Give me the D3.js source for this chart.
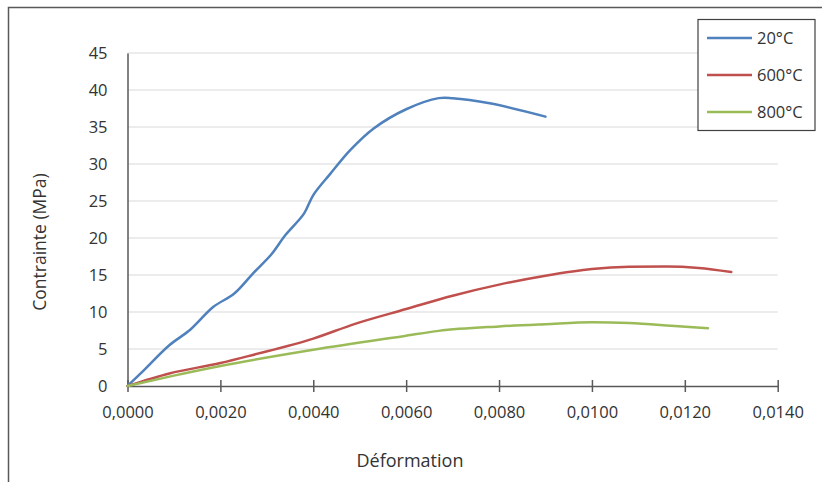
<!DOCTYPE html>
<html>
<head>
<meta charset="utf-8">
<script src="https://cdn.jsdelivr.net/npm/d3@7"></script>
<style>
  html, body { margin: 0; padding: 0; background: #fff; }
  svg { display: block; font-family: "Open Sans", sans-serif; }
</style>
</head>
<body>
<svg id="chart" width="822" height="482"></svg>
<script>
// Données (déformation, contrainte en MPa)
const strain20 = [0, 0.0003, 0.0009, 0.00135, 0.00185, 0.0023, 0.0027, 0.0031, 0.0034, 0.0038, 0.0040, 0.00437, 0.0048, 0.0053, 0.0060, 0.0067, 0.0070, 0.0078, 0.0090];
const stress20 = [0, 1.8, 5.5, 7.6, 10.7, 12.5, 15.2, 17.8, 20.4, 23.3, 25.8, 28.7, 31.9, 34.8, 37.4, 38.9, 38.9, 38.2, 36.4];

const strain600 = [0, 0.0009, 0.0020, 0.0027, 0.0040, 0.0049, 0.0060, 0.0070, 0.0080, 0.0090, 0.0100, 0.0108, 0.0116, 0.0123, 0.0130];
const stress600 = [0, 1.7, 3.1, 4.2, 6.4, 8.4, 10.4, 12.2, 13.7, 14.9, 15.8, 16.1, 16.15, 15.95, 15.4];

const strain800 = [0, 0.0010, 0.0020, 0.0040, 0.0060, 0.0067, 0.0080, 0.0090, 0.0100, 0.0108, 0.0117, 0.0125];
const stress800 = [0, 1.4, 2.7, 4.9, 6.8, 7.45, 8.05, 8.35, 8.6, 8.5, 8.15, 7.8];

const seriesNames = ["20°C", "600°C", "800°C"];
const seriesColors = ["#4f81bd", "#c0504d", "#9bbb59"];
const xTicks = [0, 0.002, 0.004, 0.006, 0.008, 0.010, 0.012, 0.014];
const yTicks = [0, 5, 10, 15, 20, 25, 30, 35, 40, 45];

const series = [
  { name: seriesNames[0], color: seriesColors[0], curve: d3.curveCatmullRom.alpha(0.5),
    values: strain20.map((d, i) => ({ x: d, y: stress20[i] })) },
  { name: seriesNames[1], color: seriesColors[1], curve: d3.curveMonotoneX,
    values: strain600.map((d, i) => ({ x: d, y: stress600[i] })) },
  { name: seriesNames[2], color: seriesColors[2], curve: d3.curveMonotoneX,
    values: strain800.map((d, i) => ({ x: d, y: stress800[i] })) }
];

const svg = d3.select("#chart");
const textColor = "#333333";
const axisColor = "#595959";

// Cadre extérieur
svg.append("rect")
  .attr("x", 8.5).attr("y", 7.5)
  .attr("width", 830).attr("height", 490)
  .attr("fill", "#fff")
  .attr("stroke", "#595959")
  .attr("stroke-width", 1.5);

const x = d3.scaleLinear().domain([0, 0.014]).range([127.5, 777.7]);
const y = d3.scaleLinear().domain([0, 45]).range([386, 53]);

// Grille horizontale
svg.append("g")
  .selectAll("line")
  .data(yTicks.filter(d => d > 0))
  .enter().append("line")
  .attr("x1", x(0)).attr("x2", x(0.014))
  .attr("y1", d => y(d)).attr("y2", d => y(d))
  .attr("stroke", "#d9d9d9")
  .attr("stroke-width", 1);

// Axe Y
const yAxis = svg.append("g")
  .attr("transform", `translate(${x(0)},0)`)
  .call(d3.axisLeft(y).tickValues(yTicks).tickSize(0).tickPadding(20));
yAxis.select(".domain").attr("stroke", axisColor).attr("stroke-width", 1.5);
yAxis.selectAll("text")
  .attr("fill", textColor)
  .attr("font-size", "16.5px")
  .attr("font-family", "Open Sans");

// Axe X
const xAxis = svg.append("g")
  .attr("transform", `translate(0,${y(0)})`)
  .call(d3.axisBottom(x).tickValues(xTicks).tickSizeInner(6).tickSizeOuter(0).tickPadding(14)
    .tickFormat(d => d3.format(".4f")(d).replace(".", ",")));
xAxis.select(".domain").attr("stroke", axisColor).attr("stroke-width", 1.5);
xAxis.selectAll(".tick line")
  .attr("y1", -6).attr("y2", 6)
  .attr("stroke", axisColor).attr("stroke-width", 1.5);
xAxis.selectAll("text")
  .attr("fill", textColor)
  .attr("font-size", "16.5px")
  .attr("font-family", "Open Sans");

// Courbes
svg.append("g")
  .selectAll("path")
  .data(series)
  .enter().append("path")
  .attr("fill", "none")
  .attr("stroke", d => d.color)
  .attr("stroke-width", 2.5)
  .attr("stroke-linecap", "round")
  .attr("d", d => d3.line().x(p => x(p.x)).y(p => y(p.y)).curve(d.curve)(d.values));

// Titres des axes
svg.append("text")
  .attr("x", 410).attr("y", 467)
  .attr("text-anchor", "middle")
  .attr("fill", textColor)
  .attr("font-size", "18px")
  .text("Déformation");

svg.append("text")
  .attr("transform", "translate(46,242) rotate(-90)")
  .attr("text-anchor", "middle")
  .attr("fill", textColor)
  .attr("font-size", "17.5px")
  .text("Contrainte (MPa)");

// Légende
const legend = svg.append("g");
legend.append("rect")
  .attr("x", 698).attr("y", 19.5)
  .attr("width", 117).attr("height", 111)
  .attr("fill", "#fff")
  .attr("stroke", "#404040")
  .attr("stroke-width", 1.2);

const legendItem = legend.selectAll(".item")
  .data(series)
  .enter().append("g")
  .attr("class", "item")
  .attr("transform", (d, i) => `translate(0,${38 + i * 37})`);

legendItem.append("line")
  .attr("x1", 707).attr("x2", 752)
  .attr("y1", 0).attr("y2", 0)
  .attr("stroke", d => d.color)
  .attr("stroke-width", 2.5);

legendItem.append("text")
  .attr("x", 757).attr("y", 0)
  .attr("dy", "0.35em")
  .attr("fill", textColor)
  .attr("font-size", "16.5px")
  .text(d => d.name);
</script>
</body>
</html>
